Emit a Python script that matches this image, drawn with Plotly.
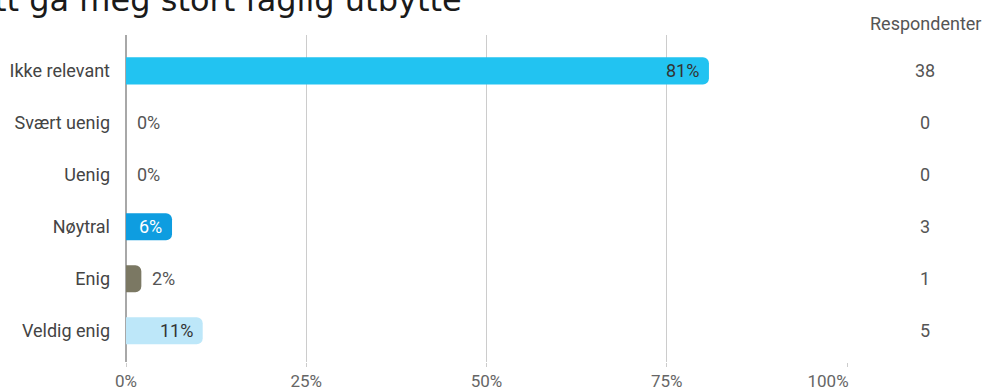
import plotly.graph_objects as go

categories = ["Ikke relevant", "Svært uenig", "Uenig", "Nøytral", "Enig", "Veldig enig"]
counts = [38, 0, 0, 3, 1, 5]
pct_labels = ["81%", "0%", "0%", "6%", "2%", "11%"]
bar_colors = ["#22C3F1", "#22C3F1", "#22C3F1", "#0E9DE0", "#7B7863", "#BDE7F9"]
label_inside = [True, False, False, True, False, True]
label_colors = ["#333333", "#555555", "#555555", "#FFFFFF", "#555555", "#333333"]
x_ticks = [0, 25, 50, 75, 100]
x_ticklabels = ["0%", "25%", "50%", "75%", "100%" + "\u00a0" * 9]
title_text = "tt gå meg stort faglig utbytte"
count_header = "Respondenter"

W, H = 982, 392
ML, MR, MT, MB = 126, 135, 35, 30
plot_w = W - ML - MR
plot_h = H - MT - MB

total = sum(counts)
pcts = [c / total * 100 for c in counts]

fig = go.Figure()
fig.add_trace(go.Bar(
    y=categories, x=pcts, orientation="h",
    marker=dict(color=bar_colors, line=dict(width=0)),
    hoverinfo="skip",
))

annotations = []
for cat, p, lab, inside, col in zip(categories, pcts, pct_labels, label_inside, label_colors):
    annotations.append(dict(
        x=p, y=cat, xref="x", yref="y", text=lab, showarrow=False,
        xanchor="right" if inside else "left",
        xshift=-8 if inside else 9,
        font=dict(family="Roboto", size=18, color=col),
    ))
col_x = (925 - ML) / plot_w
for cat, c in zip(categories, counts):
    annotations.append(dict(
        x=col_x, y=cat, xref="paper", yref="y", text=str(c), showarrow=False,
        xanchor="center", font=dict(family="Roboto", size=18, color="#555555"),
    ))
annotations.append(dict(
    x=col_x, y=1 + (MT - 24) / plot_h, xref="paper", yref="paper", text=count_header,
    showarrow=False, xanchor="center", yanchor="middle",
    font=dict(family="Roboto", size=18, color="#555555"),
))
annotations.append(dict(
    x=(-8 - ML) / plot_w, y=1 + (MT - 21) / plot_h, xref="paper", yref="paper",
    text=title_text, showarrow=False, xanchor="left", yanchor="bottom",
    font=dict(family="DejaVu Sans", size=32, color="#1A1A1A"),
))

fig.update_layout(
    width=W, height=H,
    margin=dict(l=ML, r=MR, t=MT, b=MB, autoexpand=False),
    paper_bgcolor="white", plot_bgcolor="white",
    showlegend=False,
    bargap=0.48,
    barcornerradius=6,
    annotations=annotations,
    xaxis=dict(
        range=[0, 100], tickvals=x_ticks, ticktext=x_ticklabels,
        showgrid=True, gridcolor="#CCCCCC", gridwidth=1,
        zeroline=True, zerolinecolor="#A8A8A8", zerolinewidth=2,
        ticks="outside", ticklen=4, tickcolor="#CCCCCC",
        ticklabelstandoff=0,
        tickfont=dict(family="Roboto", size=17, color="#666666"),
        showline=False, fixedrange=True,
    ),
    yaxis=dict(
        categoryorder="array", categoryarray=categories,
        range=[5.6, -0.69],
        showgrid=False, zeroline=False, showline=False,
        ticks="", ticklabelstandoff=15,
        tickfont=dict(family="Roboto", size=18, color="#444444"),
        fixedrange=True,
    ),
)

fig.write_html(
    "out.html",
    config={"displayModeBar": False, "staticPlot": True},
    post_script="document.body.style.margin='0px';document.body.style.overflow='hidden';",
)
